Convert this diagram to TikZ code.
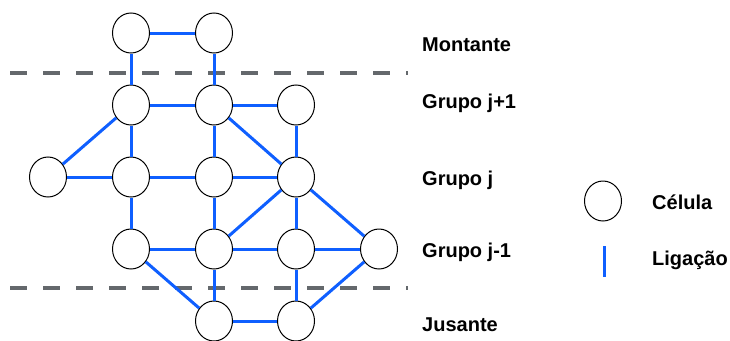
\documentclass[tikz,border=0pt]{standalone}
\usepackage{fontspec}
\setmainfont{Liberation Sans}
\usetikzlibrary{shapes.geometric}

\definecolor{ligblue}{RGB}{15,95,255}
\definecolor{sepgray}{RGB}{100,104,108}

\tikzset{
  cel/.style={draw, ellipse, line width=1pt, fill=white, minimum width=37pt, minimum height=40pt, inner sep=0pt},
  lig/.style={draw=ligblue, line width=3pt},
  sep/.style={draw=sepgray, line width=3.5pt, dash pattern=on 17pt off 16pt},
  lab/.style={anchor=west, font=\fontsize{20pt}{22pt}\selectfont\bfseries, inner sep=0pt}
}

\begin{document}
\begin{tikzpicture}[x=1pt, y=-1pt]
    \useasboundingbox (0,0) rectangle (730,340) ;

    \draw [sep] (10,73) -- (408,73) ;
    \draw [sep] (10,288) -- (408,288) ;

    % montante
    \node [cel] (m1) at (131,33) {} ;
    \node [cel] (m2) at (214,33) {} ;
    % grupo j+1
    \node [cel] (a1) at (131,105) {} ;
    \node [cel] (a2) at (214,105) {} ;
    \node [cel] (a3) at (296,105) {} ;
    % grupo j
    \node [cel] (b0) at (48,177) {} ;
    \node [cel] (b1) at (131,177) {} ;
    \node [cel] (b2) at (214,177) {} ;
    \node [cel] (b3) at (296,177) {} ;
    % grupo j-1
    \node [cel] (c1) at (131,249) {} ;
    \node [cel] (c2) at (214,249) {} ;
    \node [cel] (c3) at (296,249) {} ;
    \node [cel] (c4) at (379,249) {} ;
    % jusante
    \node [cel] (j2) at (214,321) {} ;
    \node [cel] (j3) at (296,321) {} ;

    \draw [lig] (m1) -- (m2) ;
    \draw [lig] (m1) -- (a1) ;
    \draw [lig] (m2) -- (a2) ;
    \draw [lig] (a1) -- (a2) ;
    \draw [lig] (a2) -- (a3) ;
    \draw [lig] (a1) -- (b0) ;
    \draw [lig] (a1) -- (b1) ;
    \draw [lig] (a2) -- (b2) ;
    \draw [lig] (a2) -- (b3) ;
    \draw [lig] (a3) -- (b3) ;
    \draw [lig] (b0) -- (b1) ;
    \draw [lig] (b1) -- (b2) ;
    \draw [lig] (b2) -- (b3) ;
    \draw [lig] (b1) -- (c1) ;
    \draw [lig] (b2) -- (c2) ;
    \draw [lig] (b3) -- (c2) ;
    \draw [lig] (b3) -- (c3) ;
    \draw [lig] (b3) -- (c4) ;
    \draw [lig] (c1) -- (c2) ;
    \draw [lig] (c2) -- (c3) ;
    \draw [lig] (c3) -- (c4) ;
    \draw [lig] (c1) -- (j2) ;
    \draw [lig] (c2) -- (j2) ;
    \draw [lig] (c3) -- (j3) ;
    \draw [lig] (c4) -- (j3) ;
    \draw [lig] (j2) -- (j3) ;

    \node [lab] (tmont) at (422,45) {Montante} ;
    \node [lab] (tsup) at (422,103) {Grupo j+1} ;
    \node [lab] (tmid) at (422,180) {Grupo j} ;
    \node [lab] (tinf) at (422,252) {Grupo j-1} ;
    \node [lab] (tjus) at (422,325) {Jusante} ;

    % legenda
    \node [cel] (lcel) at (603,201) {} ;
    \node [lab] (tcel) at (652,202) {Célula} ;
    \coordinate (ltop) at (604,246) ;
    \coordinate (lbot) at (604,277) ;
    \draw [lig] (ltop) -- (lbot) ;
    \node [lab] (tlig) at (652,260) {Ligação} ;
\end{tikzpicture}
\end{document}
